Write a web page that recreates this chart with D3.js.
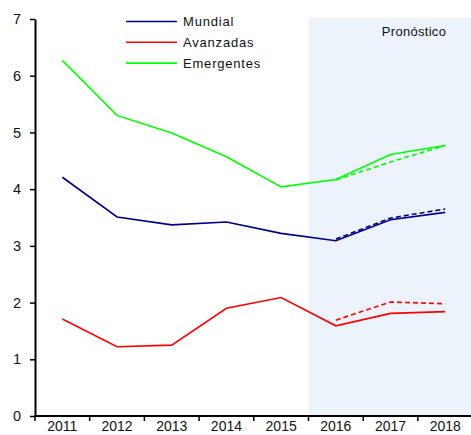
<!DOCTYPE html>
<html><head><meta charset="utf-8">
<script src="https://cdn.jsdelivr.net/npm/d3@7"></script>
<style>body{margin:0;background:#fff;}svg{display:block;font-family:"Liberation Sans",Arial,sans-serif;}</style>
</head><body><svg id="c" width="471" height="435"></svg>
<script>
const years = ["2011","2012","2013","2014","2015","2016","2017","2018"];
const mundial = [4.21, 3.51, 3.37, 3.42, 3.22, 3.09, 3.46, 3.59];
const avanzadas = [1.71, 1.22, 1.25, 1.90, 2.09, 1.59, 1.81, 1.84];
const emergentes = [6.27, 5.30, 4.99, 4.57, 4.04, 4.17, 4.61, 4.77];
const prevYears = ["2016","2017","2018"];
const mundialPrev = [3.12, 3.49, 3.65];
const avanzadasPrev = [1.69, 2.01, 1.98];
const emergentesPrev = [4.16, 4.48, 4.77];
const yTicks = [0,1,2,3,4,5,6,7];
const seriesNames = ["Mundial","Avanzadas","Emergentes"];
const forecastLabel = "Pronóstico";
const forecastStart = "2016";

const colors = ["#00008b","#ff0000","#00ff00"];
const svg = d3.select("#c");
const x = d3.scaleBand().domain(years).range([35, 472.6]);
const y = d3.scaleLinear().domain([0,7]).range([416, 19]);

// forecast shading
svg.append("rect")
  .attr("x", x(forecastStart)).attr("y", 18)
  .attr("width", x.range()[1] - x(forecastStart)).attr("height", y(0) - 18)
  .attr("fill", "#edf3fb");

svg.append("text").attr("x", 414).attr("y", 36).attr("text-anchor","middle")
  .attr("font-size", 13).attr("letter-spacing", 0.3).attr("fill","#111").text(forecastLabel);

const cx = d => x(d) + x.bandwidth()/2;
const line = d3.line().x(d => cx(d[0])).y(d => y(d[1]));

const solid = [mundial, avanzadas, emergentes];
const dashed = [mundialPrev, avanzadasPrev, emergentesPrev];
solid.forEach((s,i) => {
  svg.append("path").datum(years.map((yr,j)=>[yr,s[j]]))
    .attr("d", line).attr("fill","none").attr("stroke",colors[i]).attr("stroke-width",1.6);
});
dashed.forEach((s,i) => {
  svg.append("path").datum(prevYears.map((yr,j)=>[yr,s[j]]))
    .attr("d", line).attr("fill","none").attr("stroke",colors[i]).attr("stroke-width",1.6)
    .attr("stroke-dasharray","5,3");
});

// axes
const yAxis = svg.append("g").attr("transform","translate(35,0)")
  .call(d3.axisLeft(y).tickValues(yTicks).tickFormat(d3.format("d")).tickSize(5).tickSizeOuter(0).tickPadding(9));
yAxis.select(".domain").attr("stroke","#000").attr("stroke-width",2);
yAxis.selectAll(".tick line").attr("stroke","#000").attr("stroke-width",1.5);
yAxis.selectAll("text").attr("font-size",14.5).attr("fill","#111").style("font-family","Liberation Sans, Arial");

const xAxisG = svg.append("g").attr("transform",`translate(0,${y(0)})`);
xAxisG.append("line").attr("x1",34).attr("x2",471).attr("y1",0).attr("y2",0).attr("stroke","#000").attr("stroke-width",2);
xAxisG.selectAll("line.t").data(years).enter().append("line").attr("class","t")
  .attr("x1", d=>x(d)).attr("x2", d=>x(d)).attr("y1",0).attr("y2",5)
  .attr("stroke","#000").attr("stroke-width",1.5);
xAxisG.selectAll("text").data(years).enter().append("text")
  .attr("x", d=>cx(d)).attr("y", 15).attr("text-anchor","middle")
  .attr("font-size",14).attr("fill","#111").text(d=>d);

// legend
const leg = svg.append("g");
seriesNames.forEach((n,i) => {
  const ly = 21.5 + i*20.8;
  leg.append("line").attr("x1",126).attr("x2",177).attr("y1",ly).attr("y2",ly)
    .attr("stroke",colors[i]).attr("stroke-width",1.6);
  leg.append("text").attr("x",183).attr("y",ly+4.5).attr("font-size",13)
    .attr("letter-spacing",0.8).attr("fill","#111").text(n);
});
</script></body></html>
